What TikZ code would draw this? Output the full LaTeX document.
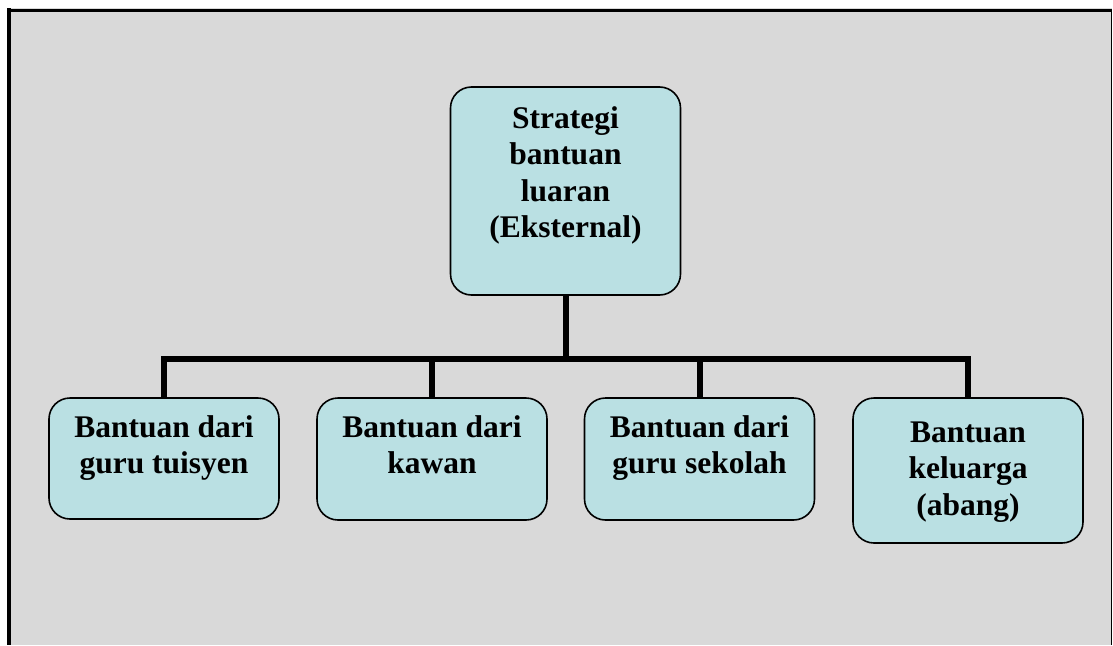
\documentclass[tikz,border=0pt]{standalone}
\usepackage{fontspec}
\setmainfont{Liberation Serif}
\definecolor{panelgray}{RGB}{217,217,217}
\definecolor{boxcyan}{RGB}{186,224,227}
\begin{document}
\begin{tikzpicture}[x=1pt,y=-1pt,
  box/.style={draw=black, line width=1.6pt, fill=boxcyan, rounded corners=21pt,
    inner sep=0pt, minimum width=230pt},
  caption/.style={anchor=north, inner sep=0pt, align=center,
    font=\fontsize{31.5}{36.5}\selectfont\bfseries},
  wire/.style={line width=6pt, line join=miter}]
  \useasboundingbox (0,0) rectangle (1113,645);
  % panel and its frame
  \fill[panelgray] (7,8) rectangle (1112,645);
  \fill[black] (7,8) rectangle (11,645);
  \fill[black] (7,9) rectangle (1112,12);
  \fill[black] (1111,9) rectangle (1112,645);

  % boxes
  \node[box, minimum height=208pt] (top) at (565.5,191) {};
  \node[box, minimum height=121pt] (b1) at (164,458.5) {};
  \node[box, minimum height=122pt] (b2) at (432,459) {};
  \node[box, minimum height=122pt] (b3) at (699.5,459) {};
  \node[box, minimum height=145pt] (b4) at (968,470.5) {};

  % box texts, hung from the top edge of each box
  \node[caption] (ttop) at ([yshift=-20pt]top.north) {Strategi\\bantuan\\luaran\\(Eksternal)};
  \node[caption] (t1) at ([yshift=-18pt]b1.north) {Bantuan dari\\guru tuisyen};
  \node[caption] (t2) at ([yshift=-18pt]b2.north) {Bantuan dari\\kawan};
  \node[caption] (t3) at ([yshift=-18pt]b3.north) {Bantuan dari\\guru sekolah};
  \node[caption] (t4) at ([yshift=-24pt]b4.north) {Bantuan\\keluarga\\(abang)};

  % connectors
  \coordinate (j) at (565.5,359);
  \draw[wire] (top.south) -- (j);
  \draw[wire] (b1.north) -- (b1.north |- j) -- (b4.north |- j) -- (b4.north);
  \draw[wire] (b2.north |- j) -- (b2.north);
  \draw[wire] (b3.north |- j) -- (b3.north);
\end{tikzpicture}
\end{document}
